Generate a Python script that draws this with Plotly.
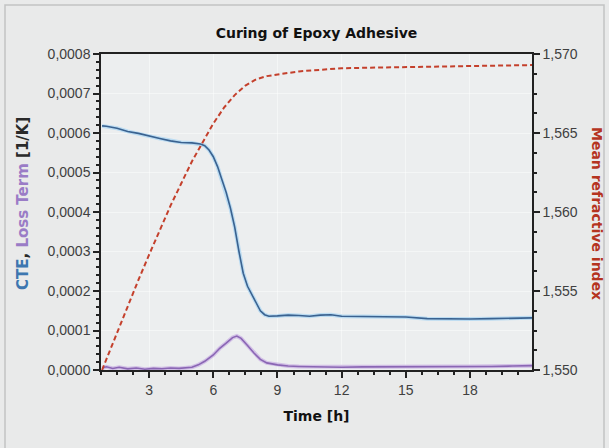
import plotly.graph_objects as go

# ---- data ----
cte_t = [0.8, 1.0, 1.5, 2.0, 2.5, 3.0, 3.5, 4.0, 4.5, 5.0, 5.4, 5.6, 5.8, 6.0, 6.2, 6.4, 6.6, 6.8,
         7.0, 7.2, 7.4, 7.6, 7.8, 8.0, 8.2, 8.4, 8.6, 9.0, 9.5, 10.0, 10.5, 11.0, 11.5, 12.0,
         13.0, 14.0, 15.0, 16.0, 17.0, 18.0, 19.0, 20.0, 20.9]
cte_v = [0.000618, 0.000617, 0.000612, 0.000604, 0.000599, 0.000592, 0.000586, 0.000580, 0.000576,
         0.000575, 0.000572, 0.000568, 0.000557, 0.000540, 0.000515, 0.000482, 0.000450, 0.000410,
         0.000362, 0.000300, 0.000245, 0.000212, 0.000190, 0.000168, 0.000150, 0.000140, 0.000136,
         0.000137, 0.000139, 0.000138, 0.000136, 0.000139, 0.000140, 0.000136,
         0.000135, 0.000135, 0.000134, 0.000130, 0.000129, 0.000129, 0.000130, 0.000132, 0.000132]

loss_t = [0.8, 1.0, 1.3, 1.6, 2.0, 2.4, 2.8, 3.2, 3.6, 4.0, 4.4, 4.8, 5.0, 5.3, 5.6, 6.0, 6.3, 6.6,
          6.9, 7.1, 7.3, 7.6, 7.9, 8.2, 8.5, 9.0, 9.5, 10.0, 11.0, 12.0, 13.0, 14.0, 15.0, 16.0,
          17.0, 18.0, 19.0, 20.0, 20.9]
loss_v = [0.000005, 0.000008, 0.000004, 0.000007, 0.000003, 0.000005, 0.000002, 0.000004, 0.000003,
          0.000005, 0.000004, 0.000006, 0.000007, 0.000013, 0.000022, 0.000038, 0.000055, 0.000068,
          0.000082, 0.000086, 0.000080, 0.000062, 0.000043, 0.000027, 0.000018, 0.000013, 0.000010,
          0.000009, 0.000008, 0.000007, 0.000008, 0.000008, 0.000009, 0.000008, 0.000009, 0.000009,
          0.000009, 0.000010, 0.000011]

ri_t = [0.8, 1.5, 2.0, 2.5, 3.0, 3.5, 4.0, 4.5, 5.0, 5.5, 6.0, 6.5, 7.0, 7.5, 8.0, 8.5, 9.0,
        10.0, 11.0, 12.0, 14.0, 16.0, 18.0, 20.9]
ri_v = [1.5500, 1.5524, 1.5540, 1.5557, 1.5573, 1.5589, 1.5604, 1.5618, 1.5632, 1.5644, 1.5656,
        1.5666, 1.5674, 1.5680, 1.5684, 1.5686, 1.5687, 1.5689, 1.56900, 1.5691, 1.56915,
        1.5692, 1.56925, 1.5693]

x_ticks = [3, 6, 9, 12, 15, 18]
title_text = "Curing of Epoxy Adhesive"

# ---- figure ----
fig = go.Figure()
fig.add_trace(go.Scatter(x=cte_t, y=cte_v, mode="lines", line=dict(color="#bcdcf2", width=4),
                         hoverinfo="skip", showlegend=False))
fig.add_trace(go.Scatter(x=cte_t, y=cte_v, mode="lines", line=dict(color="#3a6290", width=1.6),
                         name="CTE", showlegend=False))
fig.add_trace(go.Scatter(x=loss_t, y=loss_v, mode="lines", line=dict(color="#d2c0e6", width=4),
                         hoverinfo="skip", showlegend=False))
fig.add_trace(go.Scatter(x=loss_t, y=loss_v, mode="lines", line=dict(color="#8a66b4", width=1.6),
                         name="Loss Term", showlegend=False))
fig.add_trace(go.Scatter(x=ri_t, y=ri_v, mode="lines", yaxis="y2",
                         line=dict(color="#c4402c", width=2, dash="5px,3px"),
                         name="Mean refractive index", showlegend=False))

L, R, T, B = 101, 532, 54, 370
W, H = 609, 448
pw, ph = R - L, B - T

def px(x):
    return (x - L) / pw

def py(y):
    return (B - y) / ph

SANS = "Liberation Sans, Arial, sans-serif"
WIDE = "DejaVu Sans, Verdana, sans-serif"
tickfont = dict(family=SANS, size=14, color="#404040")

fig.update_layout(
    width=W, height=H,
    margin=dict(l=L, r=W - R, t=T, b=H - B),
    paper_bgcolor="#e9eaea",
    plot_bgcolor="#eceeef",
    separators=", ",
    title=dict(text="<b>" + title_text + "</b>", x=0.5, xref="paper", xanchor="center",
               y=1 - 33 / H, yanchor="middle",
               font=dict(family=WIDE, size=14, color="#111")),
    xaxis=dict(range=[0.75, 20.9], tickvals=x_ticks, ticks="outside", ticklen=6, tickwidth=1.5,
               tickcolor="#222", showline=True, linecolor="#222", linewidth=1.5, mirror=True,
               showgrid=True, gridcolor="rgba(255,255,255,0.45)", gridwidth=1, zeroline=False,
               tickfont=tickfont,
               minor=dict(dtick=0.75, tick0=0, ticks="outside", ticklen=3, tickcolor="#222",
                          showgrid=False),
               title=dict(text="<b>Time [h]</b>", standoff=15,
                          font=dict(family=WIDE, size=14, color="#111"))),
    yaxis=dict(range=[0, 0.0008], dtick=0.0001, tickformat=".4f", ticks="outside", ticklen=6,
               tickwidth=1.5, tickcolor="#222", showline=True, linecolor="#222", linewidth=1.5,
               showgrid=True, gridcolor="rgba(255,255,255,0.45)", zeroline=False, tickfont=tickfont,
               minor=dict(dtick=0.00002, ticks="outside", ticklen=3, tickcolor="#222", showgrid=False)),
    yaxis2=dict(range=[1.550, 1.570], dtick=0.005, tickformat=".3f", overlaying="y", side="right",
                ticks="outside", ticklen=6, tickwidth=1.5, tickcolor="#222", showline=True,
                linecolor="#222", linewidth=1.5, showgrid=False, zeroline=False, tickfont=tickfont,
                minor=dict(dtick=0.00125, ticks="outside", ticklen=3, tickcolor="#222")),
    shapes=[dict(type="rect", xref="paper", yref="paper", x0=px(5), x1=px(604), y0=py(470), y1=py(5),
                 line=dict(color="#c2c3c3", width=1.5), fillcolor="rgba(0,0,0,0)", layer="above")],
    annotations=[
        dict(text="<b><span style='color:#3d77b0'>CTE</span>, <span style='color:#9a7cc6'>Loss Term</span>"
                  " <span style='color:#2a2a2a'>[1/K]</span></b>",
             xref="paper", yref="paper", x=px(23), y=py(204), textangle=-90, showarrow=False,
             xanchor="center", yanchor="middle",
             font=dict(family=WIDE, size=15, color="#2a2a2a")),
        dict(text="<b>Mean refractive index</b>", xref="paper", yref="paper", x=px(597), y=py(213),
             textangle=90, showarrow=False, xanchor="center", yanchor="middle",
             font=dict(family=WIDE, size=14, color="#b5341f")),
    ],
)

fig.write_html("out.html", config={"displayModeBar": False},
               post_script="document.body.style.margin='0';document.body.style.background='#e9eaea';")
